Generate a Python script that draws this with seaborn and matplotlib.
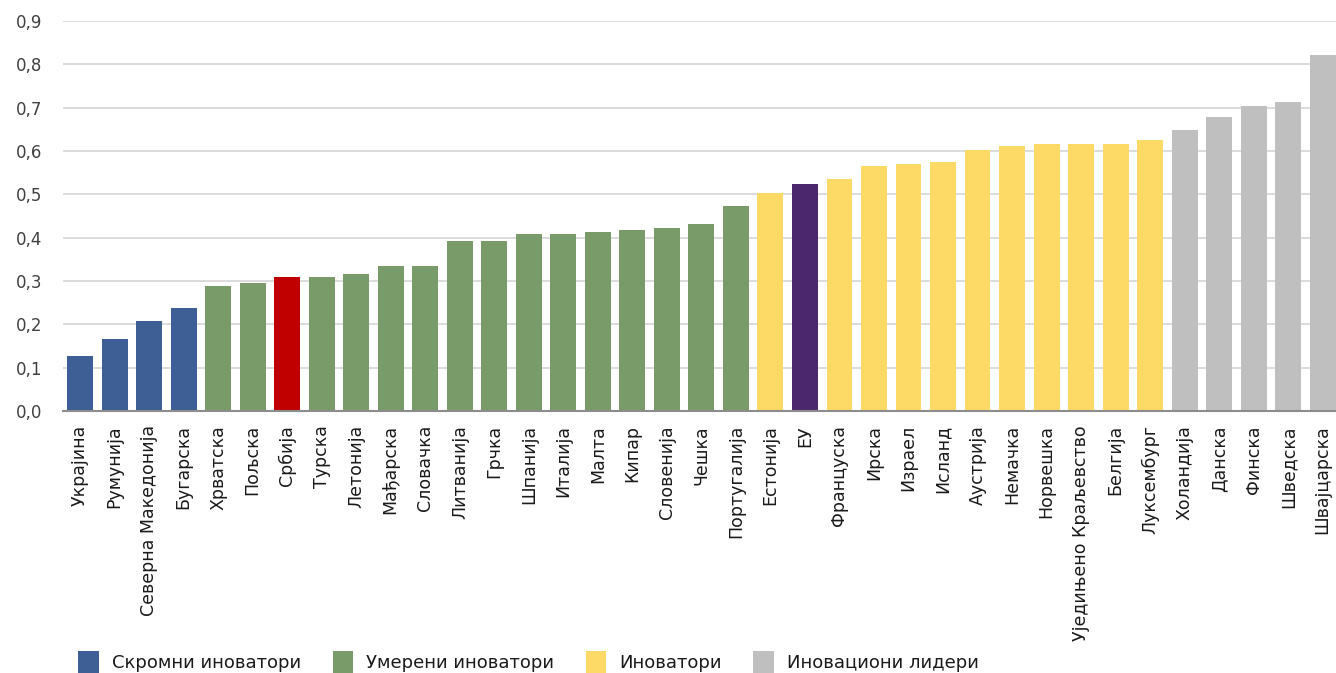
import matplotlib
matplotlib.use("Agg")
import matplotlib.pyplot as plt
from matplotlib.patches import Patch
from matplotlib.ticker import FuncFormatter
import seaborn as sns
import pandas as pd

# вредности очитане са графикона
countries = ["Украјина", "Румунија", "Северна Македонија", "Бугарска", "Хрватска", "Пољска",
             "Србија", "Турска", "Летонија", "Мађарска", "Словачка", "Литванија", "Грчка",
             "Шпанија", "Италија", "Малта", "Кипар", "Словенија", "Чешка", "Португалија",
             "Естонија", "ЕУ", "Француска", "Ирска", "Израел", "Исланд", "Аустрија", "Немачка",
             "Норвешка", "Уједињено Краљевство", "Белгија", "Луксембург", "Холандија", "Данска",
             "Финска", "Шведска", "Швајцарска"]
values = [0.127, 0.166, 0.208, 0.238, 0.288, 0.295, 0.309, 0.309, 0.316, 0.335, 0.335,
          0.392, 0.392, 0.408, 0.408, 0.413, 0.418, 0.422, 0.432, 0.473, 0.503, 0.524,
          0.535, 0.565, 0.570, 0.575, 0.602, 0.612, 0.616, 0.616, 0.616, 0.625,
          0.648, 0.678, 0.704, 0.713, 0.822]
groups = ["skromni"] * 4 + ["umereni"] * 2 + ["srbija"] + ["umereni"] * 13 + ["inovatori"] + \
         ["eu"] + ["inovatori"] * 10 + ["lideri"] * 5

group_colors = {"skromni": "#3E5F96", "umereni": "#789B69", "srbija": "#C00000",
                "inovatori": "#FDD966", "eu": "#4B286D", "lideri": "#BFBFBF"}
legend_labels = ["Скромни иноватори", "Умерени иноватори", "Иноватори", "Иновациони лидери"]
legend_keys = ["skromni", "umereni", "inovatori", "lideri"]

df = pd.DataFrame({"country": countries, "value": values, "group": groups})

sns.set_style("white")
plt.rcParams['font.family'] = ['DejaVu Sans']

fig = plt.figure(figsize=(13.36, 6.73), dpi=100)
ax = fig.add_axes([0.047, 0.389, 0.956, 0.58])

sns.barplot(data=df, x="country", y="value", hue="group", palette=group_colors,
            dodge=False, width=0.75, legend=False, ax=ax, saturation=1, linewidth=0)

ax.set_ylim(0, 0.9)
ax.set_xlim(-0.5, 36.5)
ax.set_yticks([i / 10 for i in range(10)])
ax.yaxis.set_major_formatter(FuncFormatter(lambda v, p: f"{v:.1f}".replace(".", ",")))
ax.grid(axis="y", color="#D9D9D9", linewidth=1.3)
ax.set_axisbelow(True)
for s in ["top", "right", "left"]:
    ax.spines[s].set_visible(False)
ax.spines["bottom"].set_color("#8C8C8C")
ax.spines["bottom"].set_linewidth(1.5)
ax.set_xlabel("")
ax.set_ylabel("")
ax.tick_params(axis="y", length=0, pad=15, labelsize=12, colors="#404040")
ax.tick_params(axis="x", length=0, pad=10, labelsize=12.5, colors="#1a1a1a")
plt.setp(ax.get_xticklabels(), rotation=90, ha="center", va="top")

handles = [Patch(facecolor=group_colors[k], edgecolor="none") for k in legend_keys]
fig.legend(handles, legend_labels, loc="lower left", bbox_to_anchor=(0.052, -0.013), ncol=4,
           frameon=False, fontsize=13, handlelength=1.15, handleheight=1.45,
           columnspacing=1.75, handletextpad=0.7, borderpad=0.0, labelcolor="#1a1a1a")

fig.savefig("out.png", dpi=100)
